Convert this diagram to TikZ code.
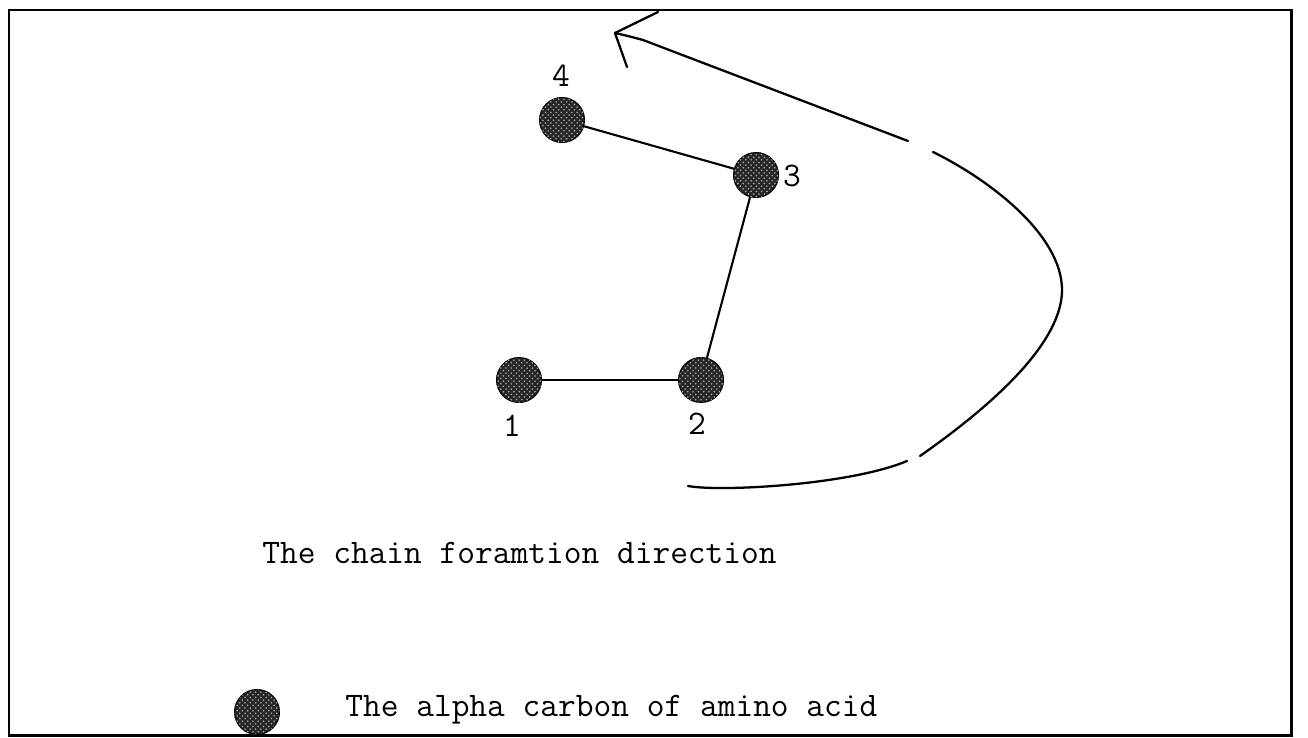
\documentclass[tikz,border=0pt]{standalone}
\usepackage{fontspec}
\usepackage{tikz}
\usetikzlibrary{arrows.meta, positioning, patterns}
\tikzstyle{calpha}  = [circle, minimum size=0.9cm, inner sep=0pt, draw=black,
    line width=0.6pt, fill=black!85,
    postaction={pattern=crosshatch dots, pattern color=black!30}]
\tikzstyle{numlbl}  = [inner sep=0pt, font=\fontsize{19.6}{22}\selectfont\ttfamily]
\tikzstyle{caption} = [inner sep=0pt, anchor=west, font=\fontsize{19.6}{22}\selectfont\ttfamily]
\tikzstyle{bond}    = [line width=1.2pt, draw=black]
\tikzstyle{arrow}   = [line width=1.3pt, draw=black, line cap=round]

\begin{document}
\begin{tikzpicture}[x=0.02cm, y=-0.02cm]
    \useasboundingbox (0,0) rectangle (1308,737);
    \draw [line width=1.7pt] (9,10) rectangle (1291,735);

    % alpha carbons
    \node (n1) [calpha] at (519,380) {};
    \node (n2) [calpha] at (701,380) {};
    \node (n3) [calpha] at (756,175) {};
    \node (n4) [calpha] at (562,120) {};
    \node (l1) [numlbl] at (512,426) {1};
    \node (l2) [numlbl] at (697,424) {2};
    \node (l3) [numlbl] at (792,176) {3};
    \node (l4) [numlbl] at (561,76)  {4};

    \draw [bond] (n1) -- (n2);
    \draw [bond] (n2) -- (n3);
    \draw [bond] (n3) -- (n4);

    % chain direction arrow
    \coordinate (s0)  at (688,486);
    \coordinate (g1a) at (907,461);
    \coordinate (g1b) at (920,456);
    \coordinate (rr)  at (1062,290);
    \coordinate (g2a) at (933,152);
    \coordinate (g2b) at (908,141);
    \coordinate (tip) at (615,33);
    \draw [arrow] (s0) .. controls (720,492) and (850,485) .. (g1a);
    \draw [arrow] (g1b) .. controls (1000,400) and (1062,340) .. (rr)
                        .. controls (1062,235) and (990,180) .. (g2a);
    \draw [arrow] (g2b) -- (643,40) .. controls (628,36) .. (tip);
    \draw [arrow] (tip) -- (658,12);
    \draw [arrow] (tip) -- (627,67);

    \node (dir) [caption] at (262,553) {The chain foramtion direction};

    % legend
    \node (key) [calpha] at (257,712) {};
    \node (keytxt) [caption] at (345,710) {The alpha carbon of amino acid};
\end{tikzpicture}
\end{document}
